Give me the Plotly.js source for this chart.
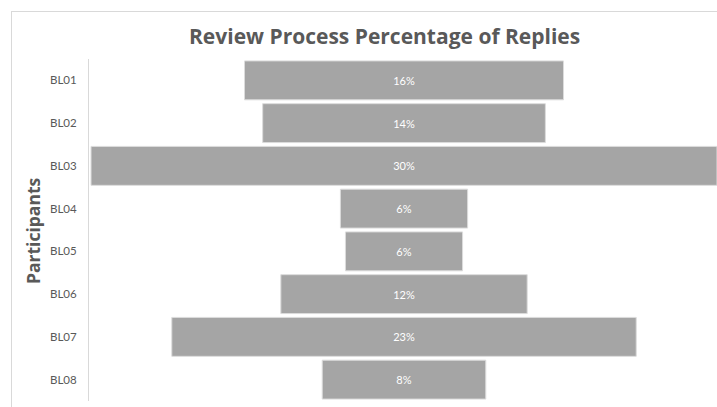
<!DOCTYPE html>
<html>
<head>
<meta charset="utf-8">
<script src="https://cdn.plot.ly/plotly-3.0.1.min.js"></script>
<style>
  html, body { margin:0; padding:0; background:#fff; }
  #wrap { position:relative; width:717px; height:407px; overflow:hidden; }
  #frame { position:absolute; left:11px; top:11px; width:800px; height:500px;
           border-left:1px solid #d9d9d9; border-top:1px solid #d9d9d9; }
  #chart { position:absolute; left:0; top:0; width:717px; height:407px; }
</style>
</head>
<body>
<div id="wrap"><div id="frame"></div><div id="chart"></div></div>
<script>
const participants = ["BL01","BL02","BL03","BL04","BL05","BL06","BL07","BL08"];
const shares = [15.8, 14.0, 31.0, 6.3, 5.8, 12.2, 23.0, 8.1];
const shareLabels = ["16%","14%","30%","6%","6%","12%","23%","8%"];

const trace = {
  type: 'bar',
  orientation: 'h',
  y: participants,
  x: shares,
  base: shares.map(v => -v / 2),
  text: shareLabels,
  textposition: 'inside',
  insidetextanchor: 'middle',
  textfont: {family: 'Lato, "Open Sans", sans-serif', size: 11, color: '#ffffff'},
  marker: {color: '#a5a5a5', line: {color: '#dcdcdc', width: 1}},
  hoverinfo: 'none',
  cliponaxis: true
};

const layout = {
  width: 717, height: 407,
  margin: {l: 89, r: 0, t: 59, b: 6},
  paper_bgcolor: 'rgba(0,0,0,0)',
  plot_bgcolor: 'rgba(0,0,0,0)',
  showlegend: false,
  bargap: 0.09,
  xaxis: {range: [-15.6, 15.5], showticklabels: false, showgrid: false, zeroline: false, showline: false, fixedrange: true},
  yaxis: {
    autorange: 'reversed', showgrid: false, zeroline: false,
    showline: true, linecolor: '#d9d9d9', linewidth: 1,
    ticks: '', ticklabelstandoff: 9,
    tickfont: {family: 'Lato, "Open Sans", sans-serif', size: 11.5, color: '#595959'}
  },
  annotations: [
    {text: '<b>Review Process Percentage of Replies</b>', xref: 'paper', yref: 'paper',
     x: (384 - 89) / 628, y: 1, yshift: 23, xanchor: 'center', yanchor: 'middle', showarrow: false,
     font: {family: '"Open Sans", sans-serif', size: 21, color: '#595959'}},
    {text: '<b>Participants</b>', xref: 'paper', yref: 'paper',
     x: (33 - 89) / 628, y: 1 - (231 - 59) / 342, xanchor: 'center', yanchor: 'middle', showarrow: false,
     textangle: -90,
     font: {family: '"Open Sans", sans-serif', size: 17.5, color: '#595959'}}
  ]
};

Plotly.newPlot('chart', [trace], layout, {displayModeBar: false, staticPlot: true});
</script>
</body>
</html>
